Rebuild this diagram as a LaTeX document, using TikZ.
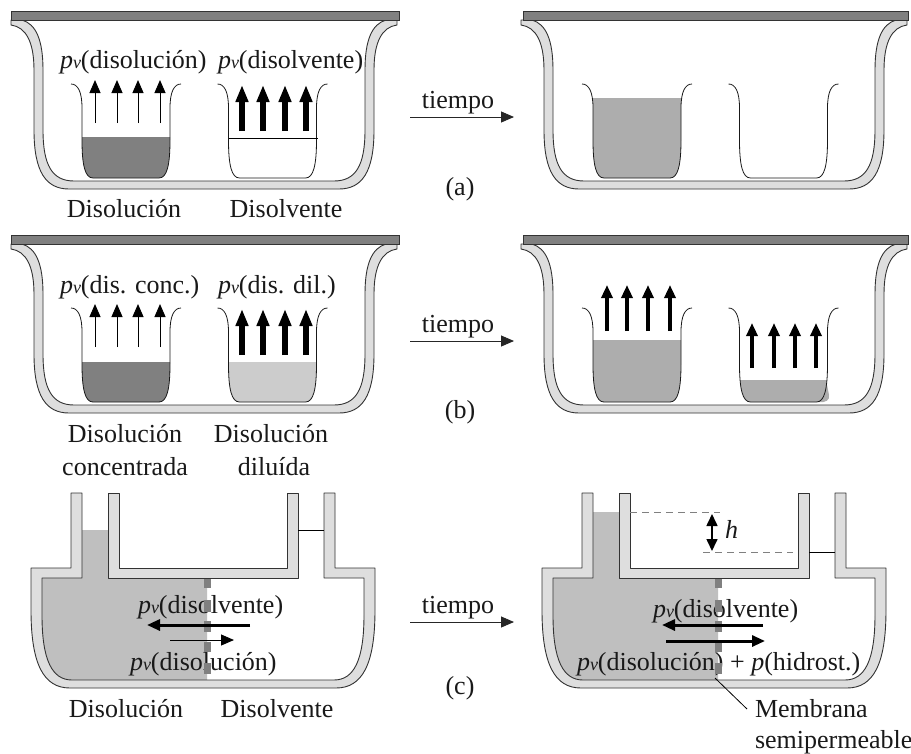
\documentclass[tikz,border=0pt]{standalone}
\usepackage{fontspec}
\setmainfont{Liberation Serif}
\usetikzlibrary{arrows.meta}
\definecolor{ink}{gray}{0.1}
\tikzset{
  x=1pt,y=-1pt,
  wallshape/.style={fill=black!13,draw=black!80,line width=0.9pt,line join=round},
  lidshape/.style={fill=black!50,draw=black!80,line width=1pt},
  beakerline/.style={draw=black!90,line width=0.8pt},
  txt/.style={inner sep=0pt,outer sep=0pt,text=ink,font=\fontsize{26}{26}\selectfont},
  lbl/.style={txt,anchor=base west},
  ctr/.style={txt,anchor=base},
  thinarrow/.style={draw=black,line width=1pt,-{Triangle[width=11pt,length=13pt]}},
  midarrow/.style={draw=black,line width=3.5pt,-{Triangle[width=11pt,length=13pt]}},
  fatarrow/.style={draw=black,line width=6pt,-{Triangle[width=12pt,length=17pt]}},
  timearrow/.style={draw=black!85,line width=0.9pt,-{Triangle[width=11pt,length=13pt]}},
  hdash/.style={draw=black!50,line width=0.8pt,dash pattern=on 7pt off 5pt},
}
\newcommand{\pvv}{{\itshape p\fontsize{18}{18}\selectfont v}}
% centre x, shift y, lid left, lid right
\newcommand{\vesselat}[4]{%
  \begin{scope}[shift={(#1,#2)}]
  \path[wallshape] (-193,20) -- (-193,25) .. controls (-178,27) and (-170,42) .. (-170,70) -- (-170,130)
    .. controls (-170,172) and (-158,189) .. (-135,189) -- (135,189)
    .. controls (158,189) and (170,172) .. (170,130) -- (170,70)
    .. controls (170,42) and (178,27) .. (193,25) -- (193,20) -- (182,20)
    .. controls (168,24) and (161,40) .. (161,70) -- (161,130)
    .. controls (161,165) and (152,181) .. (130,181) -- (-130,181)
    .. controls (-152,181) and (-161,165) .. (-161,130) -- (-161,70)
    .. controls (-161,40) and (-168,24) .. (-182,20) -- cycle;
  \path[lidshape] (#3,11) rectangle (#4,20);
  \end{scope}}
\newcommand{\beakerfillat}[4]{%
  \begin{scope}[shift={(#1,#2)}]
  \clip (-60,#3) rectangle (60,190);
  \fill[#4] (-44,84) -- (-44,140) .. controls (-44,165) and (-41,178) .. (-33,178) -- (33,178)
    .. controls (41,178) and (44,165) .. (44,140) -- (44,84) -- cycle;
  \end{scope}}
\newcommand{\beakerat}[2]{%
  \begin{scope}[shift={(#1,#2)}]
  \path[beakerline] (-55,84) .. controls (-48,84) and (-44,92) .. (-44,108) -- (-44,140)
    .. controls (-44,165) and (-41,178) .. (-33,178) -- (33,178)
    .. controls (41,178) and (44,165) .. (44,140) -- (44,108)
    .. controls (44,92) and (48,84) .. (55,84);
  \end{scope}}
% four arrows: style, y start, y tip, x1..x4
\newcommand{\fourup}[7]{%
  \foreach \xx in {#4,#5,#6,#7} {\draw[#1] (\xx,#2) -- (\xx,#3);}}
% U-tube vessel
\newcommand{\utubeat}[1]{%
  \begin{scope}[shift={(#1,0)}]
  \path[wallshape] (71,493) -- (82,493) -- (82,578) -- (42,578) -- (42,615)
    .. controls (42,660) and (52,680) .. (72,680) -- (334,680)
    .. controls (354,680) and (364,660) .. (364,615) -- (364,578) -- (324,578) -- (324,493) -- (335,493) -- (335,568) -- (375,568) -- (375,610)
    .. controls (375,665) and (362,688) .. (336,688) -- (70,688)
    .. controls (44,688) and (31,665) .. (31,610) -- (31,568) -- (71,568) -- cycle;
  \path[wallshape] (108,493) -- (119,493) -- (119,568) -- (287,568) -- (287,493) -- (298,493) -- (298,578) -- (108,578) -- cycle;
  \end{scope}}
\newcommand{\utubeliquid}[2]{%
  \begin{scope}[shift={(#1,0)}]
  \fill[black!25] (82,#2) rectangle (108,579);
  \fill[black!25] (42,578) -- (207,578) -- (207,680) -- (72,680) .. controls (52,680) and (42,660) .. (42,615) -- cycle;
  \end{scope}}
\newcommand{\membraneat}[1]{%
  \begin{scope}[shift={(#1,0)}]
  \foreach \ya/\yb in {579/588,600/612,621/632,642/652,663/674} {\fill[black!50] (204,\ya) rectangle (211,\yb);}
  \end{scope}}
\begin{document}
\begin{tikzpicture}
\useasboundingbox (0,0) rectangle (911,753);
\fill[white] (0,0) rectangle (911,753);
% ---------- row a
\vesselat{204}{0}{-193}{195}\vesselat{714}{0}{-191}{194}
\beakerfillat{126}{0}{137}{black!50}
\beakerfillat{637}{0}{98}{black!32}
\beakerat{126}{0}\beakerat{272.5}{0}\beakerat{637}{0}\beakerat{783.5}{0}
\coordinate (lvA1) at (229,138);\coordinate (lvA2) at (318,138);
\draw[black,line width=1pt] (lvA1) -- (lvA2);
\fourup{thinarrow}{123}{80}{95}{117}{138}{160}
\fourup{fatarrow}{131}{85}{242}{263}{285}{306}
\node[lbl] (pa1) at (60,68) {\pvv(disolución)};
\node[lbl] (pa2) at (218,68) {\pvv(disolvente)};
\node[ctr] (da1) at (124,217) {Disolución};
\node[ctr] (da2) at (286,217) {Disolvente};
\coordinate (ta1) at (410,117);\coordinate (ta2) at (514,117);
\draw[timearrow] (ta1) -- (ta2);
\node[ctr] (tta) at (458,108) {tiempo};
\node[ctr] (la) at (460,195) {(a)};
% ---------- row b
\vesselat{204}{224}{-193}{195}\vesselat{714}{224}{-191}{194}
\beakerfillat{126}{224}{138}{black!50}
\beakerfillat{272.5}{224}{138}{black!20}
\beakerfillat{637}{224}{116}{black!32}
\beakerfillat{783.5}{224}{156}{black!32}
\fill[black!32] (826,380) -- (829,395) .. controls (830,400) and (826,403) .. (818,402) -- cycle;
\beakerat{126}{224}\beakerat{272.5}{224}\beakerat{637}{224}\beakerat{783.5}{224}
\fourup{thinarrow}{347}{304}{95}{117}{138}{160}
\fourup{fatarrow}{355}{309}{242}{263}{285}{306}
\fourup{midarrow}{331}{285}{607}{627}{648}{670}
\fourup{midarrow}{368}{323}{752}{774}{795}{816}
\node[lbl] (pb1) at (60,293) {\pvv(dis. conc.)};
\node[lbl] (pb2) at (218,293) {\pvv(dis. dil.)};
\node[ctr] (db1) at (125,442) {Disolución};
\node[ctr] (db2) at (271,442) {Disolución};
\node[ctr] (db3) at (125,475) {concentrada};
\node[ctr] (db4) at (274,475) {diluída};
\coordinate (tb1) at (410,341);\coordinate (tb2) at (514,341);
\draw[timearrow] (tb1) -- (tb2);
\node[ctr] (ttb) at (458,332) {tiempo};
\node[ctr] (lb) at (460,418) {(b)};
% ---------- row c
\utubeliquid{0}{530}\utubeliquid{511}{512}
\utubeat{0}\utubeat{511}
\coordinate (lc1) at (298,530);\coordinate (lc2) at (324,530);
\draw[black,line width=0.9pt] (lc1) -- (lc2);
\coordinate (ld1) at (809,552);\coordinate (ld2) at (835,552);
\draw[black,line width=0.9pt] (ld1) -- (ld2);
\coordinate (ha1) at (630,512);\coordinate (ha2) at (720,512);
\coordinate (hb1) at (703,552);\coordinate (hb2) at (793,552);
\draw[hdash] (ha1) -- (ha2);
\draw[hdash] (hb1) -- (hb2);
\coordinate (hd1) at (712,514);\coordinate (hd2) at (712,551);
\draw[black,line width=1.6pt,{Triangle[width=11pt,length=12pt]}-{Triangle[width=11pt,length=12pt]}] (hd1) -- (hd2);
\node[lbl,font=\fontsize{26}{26}\selectfont\itshape] (hh) at (725,538) {h};
\node[lbl] (pc1) at (138,613) {\pvv(disolvente)};
\node[lbl] (pc2) at (130,670) {\pvv(disolución)};
\node[lbl] (pd1) at (653,617) {\pvv(disolvente)};
\node[lbl] (pd2) at (577,670) {\pvv(disolución) + {\itshape p}(hidrost.)};
\membraneat{0}\membraneat{511}
\coordinate (c1) at (250,625);\coordinate (c2) at (147,625);
\draw[draw=black,line width=3pt,-{Triangle[width=11pt,length=13pt]}] (c1) -- (c2);
\coordinate (c3) at (170,640);\coordinate (c4) at (234,640);
\draw[thinarrow] (c3) -- (c4);
\coordinate (d1) at (763,625);\coordinate (d2) at (662,625);
\draw[draw=black,line width=3pt,-{Triangle[width=11pt,length=13pt]}] (d1) -- (d2);
\coordinate (d3) at (666,641);\coordinate (d4) at (765,641);
\draw[draw=black,line width=3pt,-{Triangle[width=11pt,length=13pt]}] (d3) -- (d4);
\node[ctr] (dc1) at (126,717) {Disolución};
\node[ctr] (dc2) at (277,717) {Disolvente};
\coordinate (tc1) at (410,622);\coordinate (tc2) at (514,622);
\draw[timearrow] (tc1) -- (tc2);
\node[ctr] (ttc) at (458,613) {tiempo};
\node[ctr] (lc) at (460,694) {(c)};
\node[lbl] (mb) at (755,717) {Membrana};
\node[lbl] (sp) at (755,748) {semipermeable};
\coordinate (ml) at (715,678);\coordinate (me) at (747,709);
\draw[black,line width=0.8pt] (ml) -- (me);
\end{tikzpicture}
\end{document}
